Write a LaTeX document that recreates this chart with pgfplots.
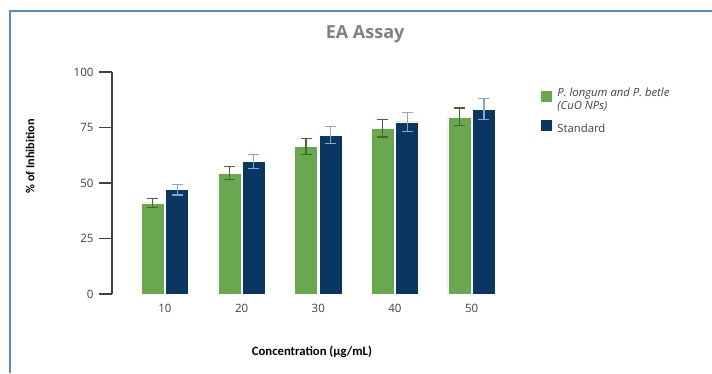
\documentclass[border=0pt]{standalone}
\usepackage{pgfplots}
\pgfplotsset{compat=1.18}
\usepackage{fontspec}
\setmainfont{Open Sans}
\newfontfamily\carlito{Carlito}

\definecolor{barGreen}{HTML}{6AA84F}
\definecolor{barNavy}{HTML}{0A3761}
\definecolor{errGreen}{HTML}{3E6A2E}
\definecolor{errNavy}{HTML}{8CA6C6}
\definecolor{axisGray}{HTML}{404040}
\definecolor{titleGray}{HTML}{7F7F7F}
\definecolor{frameBlue}{HTML}{5A8AC6}

% concentration index, mean inhibition (%), error
\pgfplotstableread{
x  y     e
0  41.0  2.0
1  54.5  3.0
2  66.5  3.7
3  74.6  3.9
4  79.8  4.0
}\plantdata
\pgfplotstableread{
x  y     e
0  47.0  2.4
1  59.6  3.2
2  71.5  3.8
3  77.5  4.2
4  83.3  4.6
}\standarddata

\begin{document}
\begin{tikzpicture}[x=1pt,y=1pt]
\useasboundingbox (0,0) rectangle (712,373);
\draw[frameBlue, line width=2pt] (10,0) -- (10,362) -- (712,362);
\begin{axis}[
  at={(112pt,79pt)}, anchor=south west,
  scale only axis, width=398pt, height=222pt,
  xmin=-0.69, xmax=4.5, ymin=0, ymax=100,
  axis lines*=left,
  x axis line style={draw=none},
  y axis line style={axisGray, line width=1.2pt},
  xtick={0,1,2,3,4}, xticklabels={10,20,30,40,50},
  ytick={0,25,50,75,100},
  tick align=outside,
  major tick length=13pt,
  xtick style={draw=none},
  ytick style={axisGray, line width=1.2pt},
  /pgf/number format/assume math mode=true,
  tick label style={font=\fontsize{11.5}{13}\selectfont, text=axisGray},
  yticklabel style={xshift=-2pt},
  xticklabel style={yshift=6pt},
  title={EA Assay},
  title style={at={(rel axis cs:0.636,1.144)}, anchor=center,
    font=\fontsize{18}{21}\selectfont\bfseries, text=titleGray},
  ylabel={\% of Inhibition},
  ylabel style={at={(rel axis cs:-0.206,0.62)}, anchor=center,
    font=\carlito\fontsize{12.2}{14}\selectfont\bfseries, text=black},
  xlabel={Concentration (µg/mL)},
  xlabel style={at={(rel axis cs:0.5025,-0.261)}, anchor=center,
    font=\carlito\fontsize{12.7}{14}\selectfont\bfseries, text=black},
  ybar=1.5pt, bar width=23pt,
  legend style={at={(rel axis cs:1.067,0.945)}, anchor=north west,
    draw=none, fill=none, font=\fontsize{11.3}{13}\selectfont,
    text=axisGray, row sep=6pt, cells={align=left},
    nodes={inner xsep=5pt}},
  legend cell align=left,
  legend image code/.code={\fill[#1] (0pt,-2.5pt) rectangle (12pt,9.5pt);},
]
\addplot[fill=barGreen, draw=white, line width=0.6pt,
  error bars/.cd, y dir=both, y explicit,
  error bar style={errGreen, line width=1.2pt},
  error mark options={rotate=90, mark size=5.5pt, errGreen, line width=1.2pt}]
  table[x=x, y=y, y error=e] {\plantdata};
\addlegendentry{\textit{P. longum and P. betle}\\\textit{(CuO NPs)}}
\addplot[fill=barNavy, draw=white, line width=0.6pt,
  error bars/.cd, y dir=both, y explicit,
  error bar style={errNavy, line width=1.2pt},
  error mark options={rotate=90, mark size=5.5pt, errNavy, line width=1.2pt}]
  table[x=x, y=y, y error=e] {\standarddata};
\addlegendentry{Standard}
\end{axis}
\end{tikzpicture}
\end{document}
